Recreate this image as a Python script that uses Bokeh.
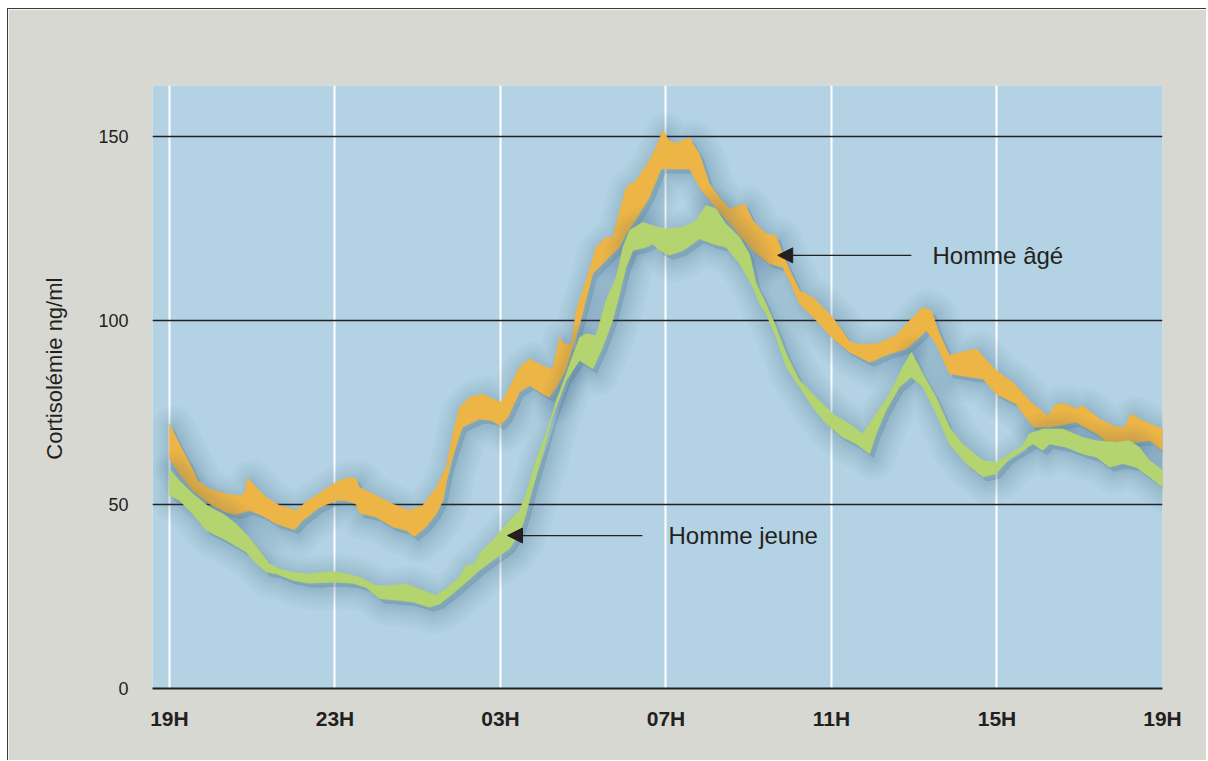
from bokeh.plotting import figure
from bokeh.models import Range1d, FixedTicker, Arrow, NormalHead, Label
from bokeh.embed import file_html
from bokeh.resources import INLINE
import numpy as np

# ---------------- data ----------------
tick_hours = [0, 4, 8, 12, 16, 20, 24]
tick_labels = ["19H", "23H", "03H", "07H", "11H", "15H", "19H"]
y_ticks = [0, 50, 100, 150]

# Homme âgé (orange band): upper edge and lower edge
age_up_h = [0, 0.24, 0.48, 0.68, 0.97, 1.37, 1.69, 1.81, 1.89, 2.10, 2.34, 2.66, 3.06, 3.30, 3.71,
            4.03, 4.27, 4.51, 4.59, 5.00, 5.40, 5.80, 6.12, 6.45, 6.69, 6.85, 7.01, 7.25, 7.57, 7.90,
            8.02, 8.18, 8.46, 8.70, 9.02, 9.26, 9.43, 9.55, 9.71, 9.83, 10.07, 10.31, 10.55, 10.71,
            11.04, 11.28, 11.60, 11.80, 11.92, 12.08, 12.25, 12.57, 12.81, 13.05, 13.29, 13.53, 13.90,
            14.10, 14.42, 14.66, 14.82, 15.03, 15.23, 15.55, 16.03, 16.43, 16.60, 17.08, 17.56, 17.89,
            18.21, 18.41, 18.61, 18.85, 19.17, 19.50, 19.98, 20.38, 20.87, 21.23, 21.43, 21.67, 21.91,
            22.07, 22.48, 22.88, 23.08, 23.24, 23.52, 24.0]
age_up = [72.0, 66.5, 61.5, 56.6, 54.3, 52.9, 52.5, 52.9, 57.3, 54.7, 52.0, 49.8, 48.4, 50.7, 53.8,
          56.1, 57.3, 57.2, 54.7, 52.5, 50.2, 48.4, 49.8, 54.7, 60.2, 69.3, 76.5, 79.2, 80.1, 78.3,
          77.9, 81.0, 87.4, 89.7, 87.8, 86.9, 95.5, 93.7, 93.7, 102.8, 111.0, 120.0, 122.7, 122.7,
          136.3, 138.2, 143.6, 148.1, 151.9, 149.0, 148.3, 149.8, 145.4, 137.3, 133.6, 130.5, 131.8,
          127.3, 123.7, 123.2, 118.2, 112.8, 108.2, 106.4, 101.0, 94.6, 93.7, 93.7, 96.0, 100.1,
          103.7, 102.8, 96.5, 90.6, 91.5, 92.4, 86.5, 83.3, 77.4, 74.2, 77.4, 77.4, 76.1,
          77.0, 73.3, 71.1, 71.1, 74.7, 72.9, 70.6]
age_lo_h = [0, 0.24, 0.56, 0.97, 1.37, 1.61, 1.93, 2.25, 2.58, 3.02, 3.22, 3.63, 4.03, 4.27, 4.51,
            4.59, 5.00, 5.40, 5.72, 5.92, 6.20, 6.45, 6.61, 6.77, 7.01, 7.09, 7.49, 7.78, 7.98, 8.18,
            8.46, 8.70, 9.02, 9.18, 9.35, 9.57, 9.91, 10.23, 10.55, 10.87, 11.04, 11.36, 11.60, 11.88,
            12.08, 12.57, 12.81, 13.13, 13.53, 14.10, 14.50, 14.82, 14.98, 15.23, 15.63, 16.03, 16.43,
            16.92, 17.40, 17.81, 18.13, 18.29, 18.53, 18.85, 19.34, 19.66, 19.98, 20.46, 20.87, 21.27,
            21.91, 22.40, 22.72, 23.04, 23.36, 23.69, 24.0]
age_lo = [62.5, 58.4, 53.8, 50.2, 47.9, 47.3, 48.4, 47.0, 44.8, 43.2, 45.7, 49.3, 51.1, 51.1, 50.2,
          47.7, 46.6, 43.9, 43.0, 41.3, 43.9, 47.5, 51.1, 60.2, 68.8, 71.1, 73.3, 72.9, 71.5, 73.8,
          80.6, 82.4, 80.1, 79.2, 81.9, 86.5, 98.7, 112.8, 116.4, 120.0, 123.7, 129.1, 133.6, 141.3,
          141.3, 141.3, 136.3, 131.8, 126.7, 119.1, 115.5, 114.6, 111.0, 104.6, 100.1, 95.2, 91.5,
          88.7, 91.0, 92.4, 95.5, 97.4, 93.7, 85.6, 84.7, 84.2, 80.1, 77.4, 71.1, 71.1,
          72.4, 69.3, 66.5, 65.6, 67.0, 67.4, 64.7]

# Homme jeune (green band): upper edge and lower edge
young_up_h = [0, 0.24, 0.56, 0.97, 1.29, 1.61, 1.93, 2.18, 2.42, 2.66, 2.98, 3.38, 3.95, 4.27, 4.59,
              5.00, 5.40, 5.72, 6.12, 6.45, 6.69, 7.01, 7.17, 7.37, 7.49, 7.81, 8.22, 8.46, 8.62, 8.86,
              9.10, 9.35, 9.59, 9.91, 10.07, 10.31, 10.55, 10.80, 10.96, 11.12, 11.44, 11.68, 12.00,
              12.41, 12.73, 12.97, 13.21, 13.45, 13.78, 14.02, 14.18, 14.42, 14.66, 14.91, 15.23, 15.63,
              16.03, 16.43, 16.76, 17.08, 17.40, 17.72, 17.93, 18.21, 18.53, 18.85, 19.17, 19.66, 19.98,
              20.30, 20.62, 20.78, 21.11, 21.59, 22.07, 22.40, 22.88, 23.20, 23.44, 23.69, 24.0]
young_up = [59.8, 56.6, 53.0, 49.3, 47.5, 44.8, 41.1, 37.5, 33.9, 32.6, 31.6, 31.2, 31.9, 31.2, 30.3,
            28.0, 28.0, 28.5, 26.7, 25.3, 27.1, 30.3, 33.5, 33.9, 36.6, 40.3, 45.7, 48.4, 53.0, 62.0,
            69.3, 78.3, 85.6, 95.5, 96.5, 96.0, 105.5, 111.9, 120.0, 124.6, 126.8, 125.9, 125.0,
            125.5, 127.3, 131.4, 130.5, 126.4, 122.7, 118.2, 110.1, 104.6, 98.3, 91.0, 83.8, 79.2,
            74.7, 72.0, 69.3, 74.7, 80.1, 87.4, 91.5, 85.6, 79.2, 71.1, 66.5, 62.0, 61.5,
            63.8, 66.1, 69.3, 70.6, 70.6, 68.3, 67.4, 67.0, 67.4, 65.6, 62.0, 59.3]
young_lo_h = [0, 0.24, 0.56, 0.89, 1.37, 1.85, 2.10, 2.34, 2.58, 2.98, 3.38, 4.03, 4.43, 4.75, 5.08,
              5.56, 5.88, 6.28, 6.53, 6.85, 7.17, 7.49, 7.81, 8.22, 8.46, 8.62, 8.78, 9.02, 9.26, 9.59,
              9.91, 10.23, 10.47, 10.71, 10.88, 11.04, 11.20, 11.52, 11.68, 11.84, 12.08, 12.41, 12.81,
              13.13, 13.45, 13.78, 14.10, 14.26, 14.42, 14.66, 14.91, 15.23, 15.55, 15.87, 16.27, 16.60,
              16.92, 17.08, 17.32, 17.64, 17.93, 18.21, 18.53, 18.85, 19.26, 19.66, 19.98, 20.30, 20.62,
              20.87, 21.11, 21.27, 21.67, 22.07, 22.40, 22.72, 23.04, 23.36, 23.69, 24.0]
young_lo = [52.5, 51.1, 47.5, 43.0, 40.3, 37.1, 33.9, 31.6, 31.2, 29.4, 28.6, 28.9, 28.6, 27.5, 24.4,
            23.9, 23.5, 22.1, 23.0, 25.8, 28.9, 32.1, 34.8, 38.0, 42.1, 47.5, 54.7, 63.8, 73.8, 83.8,
            89.2, 86.9, 92.8, 100.1, 107.3, 114.6, 119.1, 120.0, 120.9, 119.1, 117.8, 119.1, 122.3,
            120.9, 120.0, 115.5, 109.1, 104.6, 101.9, 95.5, 87.4, 81.9, 76.5, 72.0, 68.3, 66.5,
            63.8, 69.3, 75.6, 81.9, 84.7, 81.9, 74.7, 66.5, 61.1, 57.5, 58.4, 62.5, 64.7,
            66.5, 64.7, 66.5, 65.6, 63.8, 62.9, 60.2, 61.1, 60.2, 57.5, 54.7]

label_age = "Homme âgé"
label_young = "Homme jeune"
y_title = "Cortisolémie ng/ml"

# ---------------- styling ----------------
BG = "#d8d8d3"
PLOT_BG = "#b3d2e3"
ORANGE = "#edb545"
GREEN = "#b4d46f"
DARK = "#231f20"
FONT = "Liberation Sans"

p = figure(width=1199, height=752, output_backend="svg", toolbar_location=None,
           x_range=Range1d(-0.41, 24), y_range=Range1d(0, 164),
           min_border_left=144, min_border_right=45, min_border_top=76, min_border_bottom=73,
           background_fill_color=PLOT_BG, border_fill_color=BG)
p.outline_line_color = None
p.styles = {"margin-left": "7px", "margin-top": "8px",
            "border-top": "1px solid #3a3a3a", "border-left": "1px solid #3a3a3a"}


def band(xu, yu, xl, yl):
    xs = np.concatenate([np.asarray(xu, float), np.asarray(xl, float)[::-1]])
    ys = np.concatenate([np.asarray(yu, float), np.asarray(yl, float)[::-1]])
    return xs, ys


def shadow(xs, ys):
    dx, dy = 0.1, -1.2
    for lw in [44, 38, 32, 27, 22, 17, 13, 9, 5]:
        p.patch(xs + dx, ys + dy, fill_color="#2f566c", fill_alpha=0.02,
                line_color="#2f566c", line_alpha=0.022, line_width=lw, line_join="round")


ax, ay = band(age_up_h, age_up, age_lo_h, age_lo)
yx, yy = band(young_up_h, young_up, young_lo_h, young_lo)

shadow(ax, ay)
p.patch(ax, ay, fill_color=ORANGE, line_color=ORANGE, line_width=0.5)
shadow(yx, yy)
p.patch(yx, yy, fill_color=GREEN, line_color=GREEN, line_width=0.5)

# axes
p.xaxis.ticker = FixedTicker(ticks=tick_hours)
p.xaxis.major_label_overrides = {h: t for h, t in zip(tick_hours, tick_labels)}
p.yaxis.ticker = FixedTicker(ticks=y_ticks)

p.xaxis.axis_line_color = DARK
p.xaxis.axis_line_width = 2
p.xaxis.major_tick_line_color = None
p.xaxis.minor_tick_line_color = None
p.xaxis.major_label_text_font = FONT
p.xaxis.major_label_text_font_size = "21px"
p.xaxis.major_label_text_font_style = "bold"
p.xaxis.major_label_text_color = DARK
p.xaxis.major_label_standoff = 12

p.yaxis.axis_line_color = None
p.yaxis.major_tick_line_color = None
p.yaxis.minor_tick_line_color = None
p.yaxis.major_label_text_font = FONT
p.yaxis.major_label_text_font_size = "18px"
p.yaxis.major_label_text_color = DARK
p.yaxis.major_label_standoff = 18
# leading no-break spaces lift the title a little above the axis centre, as in the original
p.yaxis.axis_label = "\u00a0" * 6 + y_title
p.yaxis.axis_label_text_font = FONT
p.yaxis.axis_label_text_font_size = "22px"
p.yaxis.axis_label_text_font_style = "normal"
p.yaxis.axis_label_text_color = DARK
p.yaxis.axis_label_standoff = 28

p.xgrid.ticker = FixedTicker(ticks=tick_hours)
p.xgrid.grid_line_color = "white"
p.xgrid.grid_line_width = 2
p.ygrid.ticker = FixedTicker(ticks=y_ticks)
p.ygrid.grid_line_color = DARK
p.ygrid.grid_line_width = 1.3

# annotations
p.add_layout(Arrow(end=NormalHead(size=15, fill_color=DARK, line_color=DARK),
                   x_start=17.93, y_start=117.8, x_end=14.70, y_end=117.8,
                   line_color=DARK, line_width=1.3))
p.add_layout(Arrow(end=NormalHead(size=15, fill_color=DARK, line_color=DARK),
                   x_start=11.43, y_start=41.6, x_end=8.17, y_end=41.6,
                   line_color=DARK, line_width=1.3))
p.add_layout(Label(x=18.44, y=117.8, text=label_age, text_font=FONT, text_font_size="24px",
                   text_color=DARK, text_baseline="middle"))
p.add_layout(Label(x=12.06, y=41.6, text=label_young, text_font=FONT, text_font_size="24px",
                   text_color=DARK, text_baseline="middle"))

open("out.html", "w").write(file_html(p, INLINE))
